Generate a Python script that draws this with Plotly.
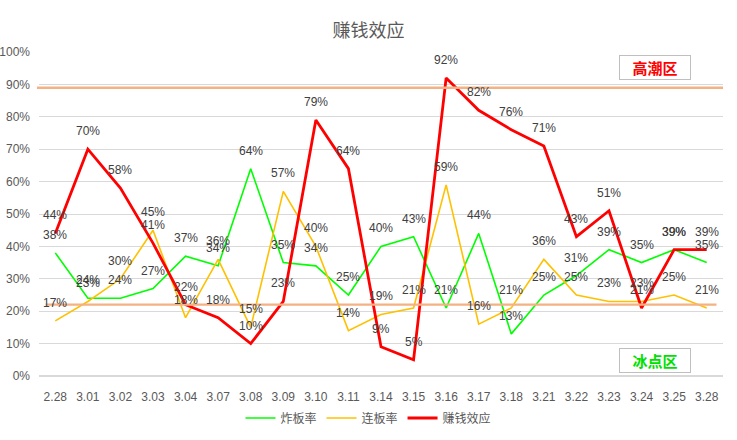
import plotly.graph_objects as go

dates = ["2.28", "3.01", "3.02", "3.03", "3.04", "3.07", "3.08", "3.09", "3.10", "3.11",
         "3.14", "3.15", "3.16", "3.17", "3.18", "3.21", "3.22", "3.23", "3.24", "3.25", "3.28"]
zhaban = [38, 24, 24, 27, 37, 34, 64, 35, 34, 25, 40, 43, 21, 44, 13, 25, 31, 39, 35, 39, 35]
lianban = [17, 23, 30, 45, 18, 36, 15, 57, 40, 14, 19, 21, 59, 16, 21, 36, 25, 23, 23, 25, 21]
zhuanqian = [44, 70, 58, 41, 22, 18, 10, 23, 79, 64, 9, 5, 92, 82, 76, 71, 43, 51, 21, 39, 39]
high_level = 89
low_level = 22

series = [
    ("炸板率", zhaban, "#00FF00", 1.6),
    ("连板率", lianban, "#FFC000", 1.6),
    ("赚钱效应", zhuanqian, "#FF0000", 2.8),
]

num_font = "Liberation Sans Narrow, Liberation Sans, Arial"
fig = go.Figure()
annotations = []
for name, vals, color, w in series:
    fig.add_trace(go.Scatter(
        x=dates, y=vals, name=name, mode="lines",
        line=dict(color=color, width=w),
    ))
    for i, v in enumerate(vals):
        annotations.append(dict(
            x=i, y=v, text=f"{v}%", showarrow=False, yshift=18,
            xanchor="center", yanchor="middle",
            font=dict(size=12, color="#404040", family=num_font),
        ))

# zone boxes
annotations.append(dict(
    xref="paper", yref="paper", x=0.901, y=0.952, text="<b>高潮区</b>", showarrow=False,
    xanchor="center", yanchor="middle",
    font=dict(size=15, color="#FF0000", family="Noto Sans CJK SC"),
    bordercolor="#BFBFBF", borderwidth=1, borderpad=2, width=66, height=19,
    bgcolor="white",
))
annotations.append(dict(
    xref="paper", yref="paper", x=0.900, y=0.049, text="<b>冰点区</b>", showarrow=False,
    xanchor="center", yanchor="middle",
    font=dict(size=15, color="#00E000", family="Noto Sans CJK SC"),
    bordercolor="#BFBFBF", borderwidth=1, borderpad=2, width=66, height=19,
    bgcolor="white",
))

shapes = [
    dict(type="line", xref="paper", yref="y", x0=-0.003, x1=1.0, y0=high_level, y1=high_level,
         line=dict(color="#F4B183", width=2.5), layer="above"),
    dict(type="line", xref="x", yref="y", x0=-0.3, x1=20.3, y0=low_level, y1=low_level,
         line=dict(color="#F4B183", width=2.2), layer="above"),
]

fig.update_layout(
    width=737, height=440,
    margin=dict(l=39, r=14, t=52, b=64, autoexpand=False),
    paper_bgcolor="white", plot_bgcolor="white",
    title=dict(text="赚钱效应", x=0.5, xanchor="center", y=0.93, yanchor="middle",
               font=dict(size=18, color="#595959", family="Noto Sans CJK SC")),
    xaxis=dict(type="category", showgrid=False, showline=False, ticks="",
               range=[-0.5, 20.5],
               ticklabelstandoff=12, automargin=False,
               tickfont=dict(size=12, color="#595959", family=num_font)),
    yaxis=dict(range=[0, 100], dtick=10, ticksuffix="%", showgrid=True, gridcolor="#D9D9D9",
               gridwidth=1, zeroline=True, zerolinecolor="#D9D9D9", showline=False,
               ticklabelstandoff=8, automargin=False,
               tickfont=dict(size=12, color="#595959", family=num_font)),
    legend=dict(orientation="h", x=0.5, xanchor="center", xref="container",
                y=0.05, yanchor="middle", yref="container",
                font=dict(size=12, color="#595959", family="Noto Sans CJK SC"),
                itemwidth=30, tracegroupgap=0),
    annotations=annotations,
    shapes=shapes,
)

fig.write_html("out.html")
